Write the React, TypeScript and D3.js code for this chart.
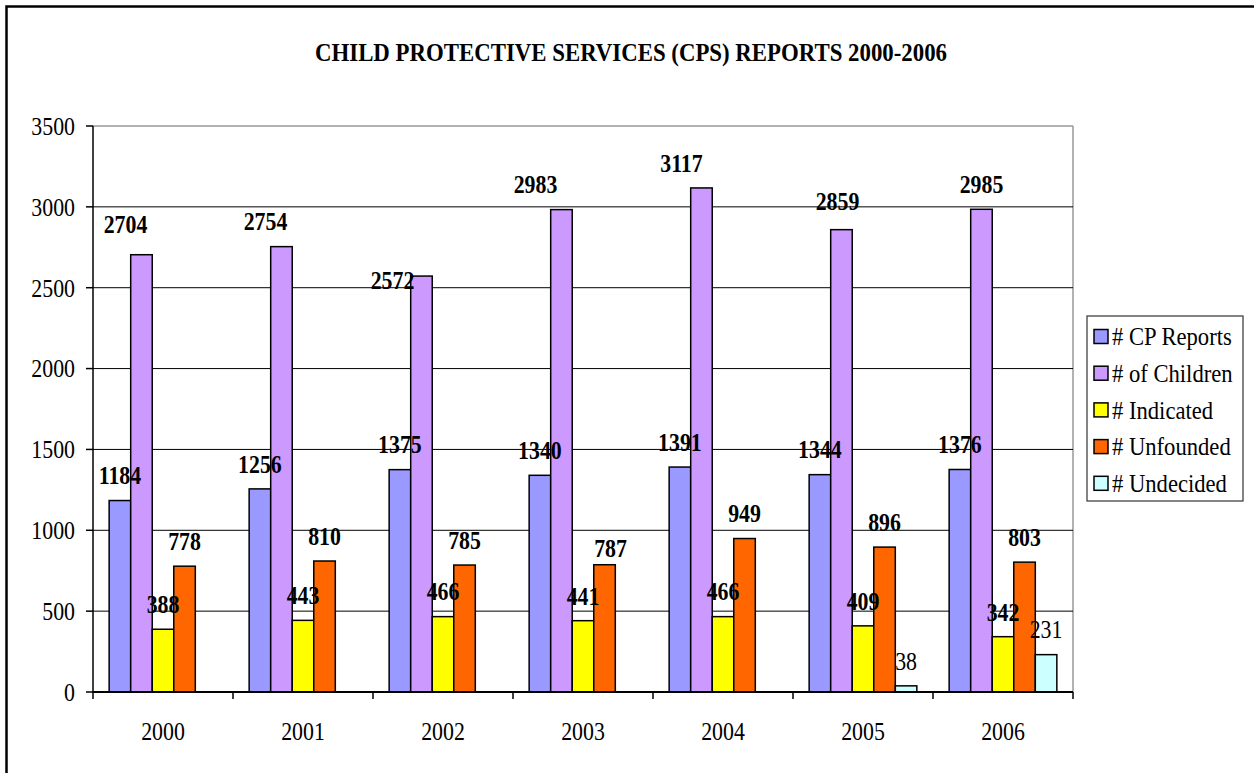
import * as d3 from 'd3';
import React from 'react';

const years = ['2000', '2001', '2002', '2003', '2004', '2005', '2006'];
const seriesNames = ['# CP Reports', '# of Children', '# Indicated', '# Unfounded', '# Undecided'];
const cpReports = [1184, 1256, 1375, 1340, 1391, 1344, 1376];
const children = [2704, 2754, 2572, 2983, 3117, 2859, 2985];
const indicated = [388, 443, 466, 441, 466, 409, 342];
const unfounded = [778, 810, 785, 787, 949, 896, 803];
const undecided: (number | null)[] = [null, null, null, null, null, 38, 231];
const yTicks = [0, 500, 1000, 1500, 2000, 2500, 3000, 3500];

const colors = ['#9999FF', '#CC99FF', '#FFFF00', '#FF6600', '#CCFFFF'];
// label nudges (the original labels were dragged around by hand in a few spots)
const nudge: Record<string, [number, number]> = {
  '1-0': [-16, -6],
  '1-1': [-16, 0],
  '1-2': [-29, 29],
  '1-3': [-26, 0],
  '1-4': [-20, 0],
  '1-5': [-4, -3],
  '3-3': [6, 8],
};

const W = 1254;
const H = 773;
const font = "'Liberation Serif', 'DejaVu Serif', serif";
const FS = 26;
const SX = 0.84; // original text looks squeezed horizontally

// text squeezed horizontally, like the source image
const T: React.FC<{ x: number; y: number; anchor?: string; bold?: boolean; sx?: number; children: React.ReactNode }> = ({ x, y, anchor = 'start', bold, sx = SX, children }) => (
  <text
    transform={`translate(${x},${y}) scale(${sx},1)`}
    textAnchor={anchor}
    fontSize={FS}
    fontWeight={bold ? 'bold' : 'normal'}
    style={{ fontFamily: font }}
  >
    {children}
  </text>
);

const App: React.FC = () => {
  const allSeries = [cpReports, children, indicated, unfounded, undecided];
  const plot = { left: 93, right: 1073, top: 126, bottom: 692 };

  const x = d3.scaleBand<string>().domain(years).range([plot.left, plot.right]).paddingInner(0).paddingOuter(0);
  const xs = d3.scaleBand<number>().domain(d3.range(5)).range([0, x.bandwidth()]).paddingInner(0).paddingOuter(0.75);
  const y = d3.scaleLinear().domain([0, 3500]).range([plot.bottom, plot.top]);

  const legend = { x: 1087, y: 316, w: 156, h: 185, rowH: 36.7, first: 336.5 };
  const mid = 0.34 * FS;

  return (
    <svg width={W} height={H} style={{ position: 'absolute', left: 0, top: 0, fontFamily: font }}>
      <rect x={0} y={0} width={W} height={H} fill="#fff" />
      {/* outer frame, runs off the right and bottom */}
      <rect x={6.5} y={6.5} width={W + 10} height={H + 10} fill="none" stroke="#000" strokeWidth={2.5} />

      <text x={631} y={61} style={{ fontFamily: font }} textAnchor="middle" fontWeight="bold" fontSize={25} textLength={632} lengthAdjust="spacingAndGlyphs">
        CHILD PROTECTIVE SERVICES (CPS) REPORTS 2000-2006
      </text>

      {/* plot border + gridlines */}
      <line x1={plot.left} x2={plot.right} y1={plot.top} y2={plot.top} stroke="#999" strokeWidth={1.5} />
      <line x1={plot.right} x2={plot.right} y1={plot.top} y2={plot.bottom} stroke="#999" strokeWidth={1.5} />
      {yTicks.slice(1, -1).map(t => (
        <line key={t} x1={plot.left} x2={plot.right} y1={y(t)} y2={y(t)} stroke="#000" strokeWidth={1} />
      ))}

      {/* bars */}
      {allSeries.map((vals, s) =>
        vals.map((v, i) =>
          v == null ? null : (
            <rect
              key={`${s}-${i}`}
              x={x(years[i])! + xs(s)!}
              y={y(v)}
              width={xs.bandwidth()}
              height={y(0) - y(v)}
              fill={colors[s]}
              stroke="#000"
              strokeWidth={1.5}
            />
          )
        )
      )}

      {/* axes */}
      <line x1={plot.left} x2={plot.left} y1={plot.top} y2={plot.bottom} stroke="#000" strokeWidth={1.5} />
      <line x1={plot.left} x2={plot.right} y1={plot.bottom} y2={plot.bottom} stroke="#000" strokeWidth={2} />
      {yTicks.map(t => (
        <g key={t}>
          <line x1={plot.left - 7} x2={plot.left} y1={y(t)} y2={y(t)} stroke="#000" strokeWidth={1.5} />
          <T x={75} y={y(t) + mid} anchor="end">{t}</T>
        </g>
      ))}
      {[...years.map(yr => x(yr)!), plot.right].map((px, i) => (
        <line key={i} x1={px} x2={px} y1={plot.bottom} y2={plot.bottom + 7} stroke="#000" strokeWidth={1.5} />
      ))}
      {years.map(yr => (
        <T key={yr} x={x(yr)! + x.bandwidth() / 2} y={731 + mid} anchor="middle">{yr}</T>
      ))}

      {/* value labels */}
      {allSeries.map((vals, s) =>
        vals.map((v, i) => {
          if (v == null) return null;
          const [dx, dy] = nudge[`${s}-${i}`] || [0, 0];
          return (
            <T
              key={`l${s}-${i}`}
              x={x(years[i])! + xs(s)! + xs.bandwidth() / 2 + dx}
              y={y(v) - 25 + mid + dy}
              anchor="middle"
              bold={s !== 4}
            >
              {v}
            </T>
          );
        })
      )}

      {/* legend */}
      <rect x={legend.x} y={legend.y} width={legend.w} height={legend.h} fill="#fff" stroke="#333" strokeWidth={1.2} />
      {seriesNames.map((name, s) => {
        const cy = legend.first + s * legend.rowH;
        return (
          <g key={name}>
            <rect x={1094} y={cy - 7} width={14} height={14} fill={colors[s]} stroke="#000" strokeWidth={1.5} />
            <T x={1112} y={cy + mid} sx={0.87}>{name}</T>
          </g>
        );
      })}
    </svg>
  );
};

export default App;
